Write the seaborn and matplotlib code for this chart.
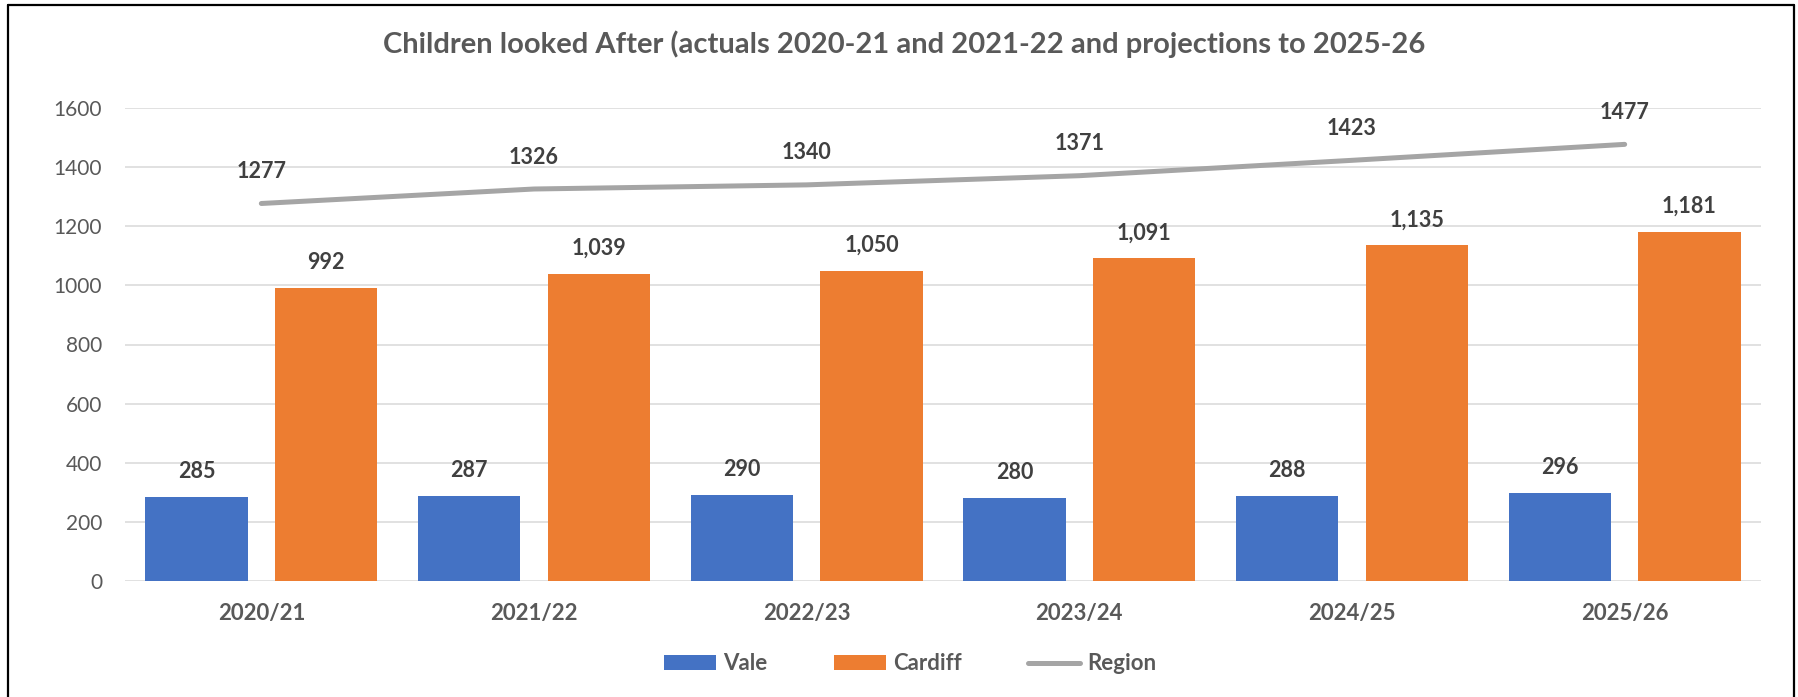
import numpy as np
import pandas as pd
import matplotlib
matplotlib.use("Agg")
import matplotlib.pyplot as plt
from matplotlib.patches import Patch
from matplotlib.lines import Line2D
import seaborn as sns

years = ["2020/21", "2021/22", "2022/23", "2023/24", "2024/25", "2025/26"]
vale = [285, 287, 290, 280, 288, 296]
cardiff = [992, 1039, 1050, 1091, 1135, 1181]
region = [1277, 1326, 1340, 1371, 1423, 1477]
series_names = ["Vale", "Cardiff", "Region"]
colors = ["#4472C4", "#ED7D31", "#A5A5A5"]
title = "Children looked After (actuals 2020-21 and 2021-22 and projections to 2025-26"

sns.set_theme(style="white")
plt.rcParams["font.family"] = ["Lato", "DejaVu Sans"]

W, H = 1798, 697
fig = plt.figure(figsize=(W / 100, H / 100), dpi=100)
ax = fig.add_axes([125 / W, 1 - 581 / H, (1761 - 125) / W, (581 - 108) / H])

df = pd.DataFrame({
    "year": years * 2,
    "value": vale + cardiff,
    "series": [series_names[0]] * len(years) + [series_names[1]] * len(years),
})
sns.barplot(data=df, x="year", y="value", hue="series", order=years,
            hue_order=series_names[:2], palette=colors[:2], width=0.95, gap=0.21,
            saturation=1, ax=ax, legend=False, edgecolor="none")

xs = np.arange(len(years))
sns.lineplot(x=xs, y=region, color=colors[2], linewidth=3.6, ax=ax,
             legend=False, solid_capstyle="round")

ax.set_ylim(0, 1600)
ax.set_xlim(-0.5, len(years) - 0.5)
ax.set_yticks(np.arange(0, 1601, 200))
ax.yaxis.grid(True, color="#D9D9D9", linewidth=1.1)
ax.set_axisbelow(True)
for s in ax.spines.values():
    s.set_visible(False)
ax.set_xlabel("")
ax.set_ylabel("")
ax.tick_params(axis="y", length=0, pad=16.5, labelsize=15, labelcolor="#595959")
ax.tick_params(axis="x", length=0, pad=15.5, labelsize=16, labelcolor="#595959")
for lab in ax.get_xticklabels():
    lab.set_fontweight("bold")

lab_color = "#404040"
for cont, fmt in zip(ax.containers, ["{:.0f}", "{:,.0f}"]):
    for rect in cont:
        h = rect.get_height()
        ax.annotate(fmt.format(h), (rect.get_x() + rect.get_width() / 2, h),
                    xytext=(0, 18.5), textcoords="offset points", ha="center",
                    va="center", fontsize=15.5, fontweight="bold", color=lab_color,
                    annotation_clip=False)
for x, v in zip(xs, region):
    ax.annotate(f"{v}", (x, v), xytext=(0, 23), textcoords="offset points",
                ha="center", va="center", fontsize=15.5, fontweight="bold",
                color=lab_color, annotation_clip=False)

fig.text(904 / W, 1 - 44 / H, title, ha="center", va="center", fontsize=21,
         fontweight="bold", color="#595959")

handles = [Patch(facecolor=colors[0], edgecolor="none"),
           Patch(facecolor=colors[1], edgecolor="none"),
           Line2D([0], [0], color=colors[2], linewidth=3.6, solid_capstyle="round")]
leg = fig.legend(handles, series_names, loc="center", bbox_to_anchor=(910 / W, 1 - 664 / H),
                 ncol=3, frameon=False, handlelength=2.35, handleheight=0.65,
                 handletextpad=0.3, columnspacing=3.0,
                 prop={"size": 16, "weight": "bold"})
for t in leg.get_texts():
    t.set_color("#595959")

# outer frame
bl = 8 / W
bt = 1 - 5 / H
br = 1794 / W
fig.add_artist(Line2D([bl, bl], [0, bt], transform=fig.transFigure, color="black", linewidth=1.6))
fig.add_artist(Line2D([bl, br], [bt, bt], transform=fig.transFigure, color="black", linewidth=1.6))
fig.add_artist(Line2D([br, br], [0, bt], transform=fig.transFigure, color="black", linewidth=1.6))

fig.savefig("out.png", dpi=100)
